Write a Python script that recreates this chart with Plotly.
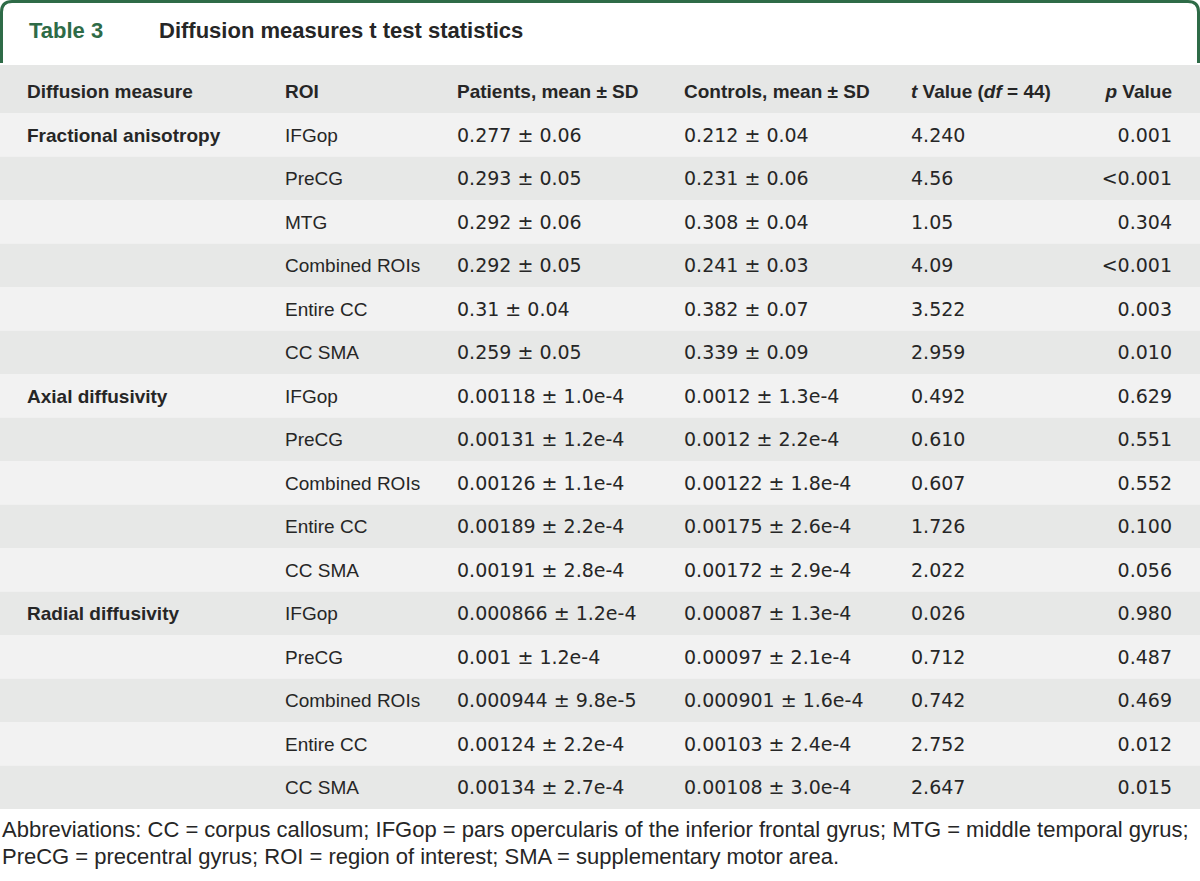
import plotly.graph_objects as go

# Table 3 values, row by row
measures = ["Fractional anisotropy", "", "", "", "", "",
            "Axial diffusivity", "", "", "", "",
            "Radial diffusivity", "", "", "", ""]
rois = ["IFGop", "PreCG", "MTG", "Combined ROIs", "Entire CC", "CC SMA",
        "IFGop", "PreCG", "Combined ROIs", "Entire CC", "CC SMA",
        "IFGop", "PreCG", "Combined ROIs", "Entire CC", "CC SMA"]
patients = ["0.277 ± 0.06", "0.293 ± 0.05", "0.292 ± 0.06", "0.292 ± 0.05",
            "0.31 ± 0.04", "0.259 ± 0.05",
            "0.00118 ± 1.0e-4", "0.00131 ± 1.2e-4", "0.00126 ± 1.1e-4",
            "0.00189 ± 2.2e-4", "0.00191 ± 2.8e-4",
            "0.000866 ± 1.2e-4", "0.001 ± 1.2e-4", "0.000944 ± 9.8e-5",
            "0.00124 ± 2.2e-4", "0.00134 ± 2.7e-4"]
controls = ["0.212 ± 0.04", "0.231 ± 0.06", "0.308 ± 0.04", "0.241 ± 0.03",
            "0.382 ± 0.07", "0.339 ± 0.09",
            "0.0012 ± 1.3e-4", "0.0012 ± 2.2e-4", "0.00122 ± 1.8e-4",
            "0.00175 ± 2.6e-4", "0.00172 ± 2.9e-4",
            "0.00087 ± 1.3e-4", "0.00097 ± 2.1e-4", "0.000901 ± 1.6e-4",
            "0.00103 ± 2.4e-4", "0.00108 ± 3.0e-4"]
t_values = ["4.240", "4.56", "1.05", "4.09", "3.522", "2.959",
            "0.492", "0.610", "0.607", "1.726", "2.022",
            "0.026", "0.712", "0.742", "2.752", "2.647"]
p_values = ["0.001", "<0.001", "0.304", "<0.001", "0.003", "0.010",
            "0.629", "0.551", "0.552", "0.100", "0.056",
            "0.980", "0.487", "0.469", "0.012", "0.015"]

headers = ["Diffusion measure", "ROI", "Patients, mean ± SD", "Controls, mean ± SD",
           "<i>t</i> Value (<i>df</i> = 44)", "<i>p</i> Value"]
title_label = "Table 3"
title_text = "Diffusion measures t test statistics"
footnote = ["Abbreviations: CC = corpus callosum; IFGop = pars opercularis of the inferior "
            "frontal gyrus; MTG = middle temporal gyrus;",
            "PreCG = precentral gyrus; ROI = region of interest; SMA = supplementary motor area."]

W, H = 1200, 881
GREEN = "#2e6b47"
TEXT = "#262626"
LIGHT = "#f2f2f2"
DARK = "#e7e8e7"
HEAD = "#e6e7e6"
SANS = "Liberation Sans"
NUM = "DejaVu Sans"
FS = 19

# layout in pixels: header band 65-113, then rows of 43.5 px
HEAD_TOP, ROW_TOP, ROW_H = 65, 113, 43.5
col_x = [27, 285, 457, 684, 911, 1172]   # last column is right aligned


def to_row(p):
    # pixel row -> y axis value (row index units)
    return (p - ROW_TOP) / ROW_H - 0.5


def py(p):
    # pixel row -> paper y
    return 1 - p / H


n = len(rois)
rows = list(range(n))
row_fill = [LIGHT if i % 2 == 0 else DARK for i in rows]
text_dy = 2 / ROW_H   # scatter text sits ~2px above its anchor

fig = go.Figure()

# background bands
fig.add_trace(go.Bar(
    y=[(to_row(HEAD_TOP) + to_row(ROW_TOP)) / 2], x=[W], base=0,
    width=[(ROW_TOP - HEAD_TOP) / ROW_H], orientation="h",
    marker=dict(color=HEAD, line=dict(width=0)), hoverinfo="skip",
))
fig.add_trace(go.Bar(
    y=rows, x=[W] * n, base=0, width=1, orientation="h",
    marker=dict(color=row_fill, line=dict(width=0)), hoverinfo="skip",
))

# header text
fig.add_trace(go.Scatter(
    x=col_x, y=[to_row(91.5) + text_dy] * len(headers),
    mode="text", text=["<b>%s</b>" % h for h in headers],
    textposition=["middle right"] * 5 + ["middle left"],
    textfont=dict(family=SANS, size=FS, color=TEXT),
    hoverinfo="skip",
))

# body columns
body = [
    (["<b>%s</b>" % m if m else "" for m in measures], SANS, "middle right"),
    (rois, SANS, "middle right"),
    (patients, NUM, "middle right"),
    (controls, NUM, "middle right"),
    (t_values, NUM, "middle right"),
    ([p.replace("<", "&lt;") for p in p_values], NUM, "middle left"),
]
for x0, (vals, fam, pos) in zip(col_x, body):
    fig.add_trace(go.Scatter(
        x=[x0] * n, y=[r + text_dy for r in rows],
        mode="text", text=vals, textposition=pos,
        textfont=dict(family=fam, size=FS, color=TEXT),
        hoverinfo="skip",
    ))

# green tab around the title
fig.add_shape(
    type="path", xref="paper", yref="paper",
    path=("M %f,%f L %f,%f Q %f,%f %f,%f L %f,%f Q %f,%f %f,%f L %f,%f" % (
        1.5 / W, py(63), 1.5 / W, py(12), 1.5 / W, py(1.5), 12 / W, py(1.5),
        1188 / W, py(1.5), 1198.5 / W, py(1.5), 1198.5 / W, py(12),
        1198.5 / W, py(63))),
    line=dict(color=GREEN, width=3),
)
fig.add_annotation(x=27 / W, y=py(31), xref="paper", yref="paper",
                   text="<b>%s</b>" % title_label, showarrow=False,
                   xanchor="left", yanchor="middle",
                   font=dict(family=SANS, size=22, color=GREEN))
fig.add_annotation(x=157 / W, y=py(31), xref="paper", yref="paper",
                   text="<b>%s</b>" % title_text, showarrow=False,
                   xanchor="left", yanchor="middle",
                   font=dict(family=SANS, size=22, color=TEXT))

for i, line in enumerate(footnote):
    fig.add_annotation(x=0, y=py(829 + 27 * i), xref="paper", yref="paper",
                       text=line, showarrow=False, xanchor="left", yanchor="middle",
                       font=dict(family=SANS, size=22, color=TEXT))

fig.update_layout(
    width=W, height=H,
    margin=dict(l=0, r=0, t=0, b=0),
    paper_bgcolor="white",
    plot_bgcolor="white",
    showlegend=False,
    hovermode=False,
    barmode="overlay",
    xaxis=dict(range=[0, W], visible=False, fixedrange=True),
    yaxis=dict(range=[to_row(H), to_row(0)], visible=False, fixedrange=True),
)

fig.write_html("out.html", config={"displayModeBar": False},
               post_script="document.body.style.margin='0';")
